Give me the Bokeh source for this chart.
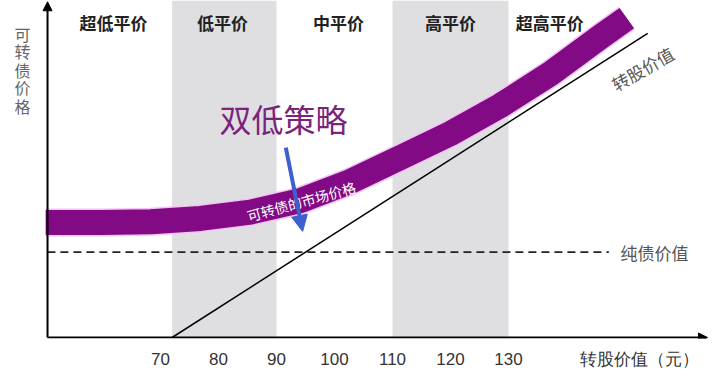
from bokeh.plotting import figure
from bokeh.models import Arrow, NormalHead, FixedTicker, Range1d
from bokeh.core.properties import value
from bokeh.embed import file_html
from bokeh.resources import INLINE

FONT = "Noto Sans CJK SC"

# ---- data ----
tick_values = [70, 80, 90, 100, 110, 120, 130]
x_title = "转股价值（元）"
x_title_pos = 152.6
zone_names = ["超低平价", "低平价", "中平价", "高平价", "超高平价"]
zone_label_x = [61.9, 80.7, 100.7, 120.0, 137.1]
shaded_left = [72, 110]
shaded_right = [90, 130]

# market price of the convertible (thick purple band)
market_x = [50.2, 59.7, 68.3, 76.9, 85.5, 94.1, 102.8, 111.4, 120.0, 128.6, 137.3, 145.9, 150.4]
market_y = [103.0, 103.0, 103.2, 104.1, 105.8, 108.9, 114.1, 120.5, 127.0, 134.5, 143.2, 153.1, 158.1]

# conversion value: price equals conversion value
conv_x = [72, 154]
conv_y = [72, 154]

# pure bond value
bond_x = [50.5, 147.3]
bond_level = 95.0

y_title_chars = ["可", "转", "债", "价", "格"]
y_title_pos = [153.9, 149.1, 144.2, 139.4, 134.5]

X0, X1 = 42.41, 166.55
Y0, Y1 = 71.73, 162.84
AXIS_X = 50.52
AXIS_Y = 72.0

p = figure(width=720, height=382, output_backend="svg", toolbar_location=None,
           x_range=Range1d(X0, X1), y_range=Range1d(Y0, Y1),
           y_axis_location=None,
           min_border_left=0, min_border_right=0, min_border_top=0, min_border_bottom=44)
p.outline_line_color = None
p.xgrid.visible = False
p.ygrid.visible = False
p.background_fill_color = "white"
p.border_fill_color = "white"

# shaded zones
p.quad(left=shaded_left, right=shaded_right, bottom=Y0, top=Y1,
       fill_color="#dfdfe2", line_color=None)

# pure bond value (dashed)
p.line(bond_x, [bond_level] * len(bond_x), line_dash="8 5", line_width=1.8, color="#222222")

# conversion value line
p.line(conv_x, conv_y, line_width=1.5, color="black")

# market price band
p.line(market_x, market_y, line_width=28, color="#f2c4f2", line_cap="butt", line_join="round")
p.line(market_x, market_y, line_width=25, color="#820a84", line_cap="butt", line_join="round")

p.text(x=[94.3], y=[108.7], text=["可转债的市场价格"], angle=0.27,
       text_color="white", text_font_size="14px", text_align="center",
       text_baseline="middle", text_font=value(FONT))

# 双低策略
p.text(x=[91.2], y=[131.3], text=["双低策略"], text_color="#7b237b",
       text_font_size="32px", text_align="center", text_baseline="middle",
       text_font=value(FONT))

# zone labels
p.text(x=zone_label_x, y=[156.9] * len(zone_label_x), text=zone_names,
       text_color="#222222", text_font_size="17px", text_font_style="bold",
       text_align="center", text_baseline="middle", text_font=value(FONT))

# right side labels
p.text(x=[149.3], y=[bond_level], text=["纯债价值"], text_color="#555555",
       text_font_size="17px", text_align="left", text_baseline="middle",
       text_font=value(FONT))
p.text(x=[153.1], y=[144.5], text=["转股价值"], angle=0.52, text_color="#555555",
       text_font_size="17px", text_align="center", text_baseline="middle",
       text_font=value(FONT))

# y axis title (vertical, one character per line)
p.text(x=[46.2] * len(y_title_chars), y=y_title_pos, text=y_title_chars,
       text_color="#666666", text_font_size="16px", text_align="center",
       text_baseline="middle", text_font=value(FONT))

# blue arrow
p.add_layout(Arrow(x_start=91.6, y_start=123.2, x_end=94.5, y_end=100.6,
                   line_color="#3d5fd0", line_width=4,
                   end=NormalHead(size=16, fill_color="#3d5fd0", line_color="#3d5fd0")))

# axes arrows
p.add_layout(Arrow(x_start=AXIS_X, y_start=AXIS_Y, x_end=AXIS_X, y_end=162.5,
                   line_color="black", line_width=2,
                   end=NormalHead(size=9, fill_color="black", line_color="black")))
p.add_layout(Arrow(x_start=AXIS_X, y_start=AXIS_Y, x_end=164.3, y_end=AXIS_Y,
                   line_color="black", line_width=2,
                   end=NormalHead(size=9, fill_color="black", line_color="black")))

# x axis tick labels (plus the axis title at the right end)
ax = p.xaxis[0]
ax.ticker = FixedTicker(ticks=tick_values + [x_title_pos])
ax.major_label_overrides = {x_title_pos: x_title}
ax.axis_line_color = None
ax.major_tick_line_color = None
ax.minor_tick_line_color = None
ax.major_label_standoff = 5
ax.major_label_text_font_size = "17px"
ax.major_label_text_color = "#333333"
ax.major_label_text_font = "Liberation Sans"

open("out.html", "w").write(file_html(p, INLINE))
